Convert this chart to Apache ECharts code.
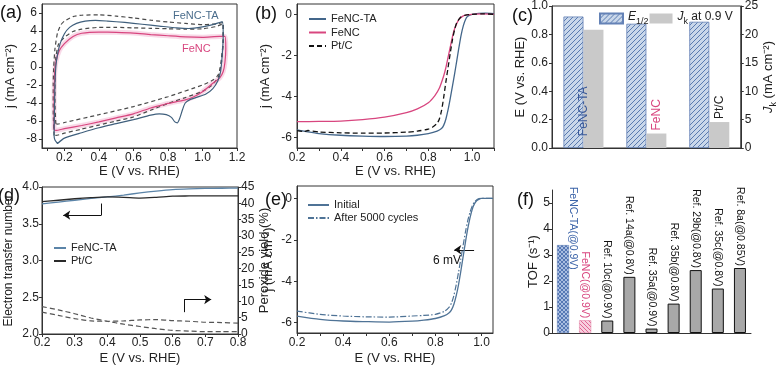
<!DOCTYPE html>
<html><head><meta charset="utf-8">
<script src="https://cdn.jsdelivr.net/npm/echarts@6/dist/echarts.min.js"></script>
<style>html,body{margin:0;padding:0;background:#fff}#c{width:779px;height:366px}</style>
</head><body><div id="c"></div>
<script>
// ---------- DATA ----------
// (a) cyclic voltammograms [E, j]
const cvTA = [[0.16,-8.5],[0.145,-8.1],[0.14,-7.6],[0.142,-5],[0.145,-2],[0.15,0],[0.16,1.4],[0.175,2.6],[0.2,3.7],[0.23,4.4],[0.27,4.85],[0.32,5.1],[0.38,5.18],[0.45,5.1],[0.55,4.95],[0.65,4.75],[0.75,4.55],[0.85,4.35],[0.92,4.28],[1.0,4.45],[1.06,4.7],[1.115,5.05],[1.12,3.5],[1.115,1.5],[1.105,-0.5],[1.09,-1.5],[1.06,-2.4],[1.02,-3.0],[0.97,-3.35],[0.93,-3.6],[0.9,-4.0],[0.885,-4.7],[0.87,-5.6],[0.855,-6.2],[0.84,-6.1],[0.82,-5.6],[0.79,-5.3],[0.75,-5.2],[0.7,-5.35],[0.6,-5.85],[0.5,-6.3],[0.4,-6.75],[0.3,-7.3],[0.2,-7.9],[0.16,-8.5]];
const cvDashBig = [[0.14,-7.6],[0.135,-5],[0.135,-2],[0.138,0],[0.145,2],[0.16,3.8],[0.18,4.7],[0.2,5.1],[0.25,5.6],[0.3,5.75],[0.4,5.8],[0.5,5.65],[0.6,5.45],[0.7,5.2],[0.8,5.0],[0.9,4.85],[1.0,4.7],[1.08,4.8],[1.12,4.95],[1.12,3],[1.11,1],[1.1,-0.5],[1.09,-1.2],[1.05,-2.1],[1.0,-2.7],[0.9,-3.4],[0.8,-4.05],[0.7,-4.8],[0.6,-5.55],[0.5,-6.0],[0.4,-6.45],[0.3,-6.9],[0.2,-7.35],[0.15,-7.6],[0.14,-7.6]];
const cvDashSmall = [[0.15,-6.3],[0.145,-4],[0.145,-1],[0.15,1],[0.165,2.5],[0.2,3.3],[0.25,3.95],[0.3,4.2],[0.4,4.4],[0.5,4.4],[0.6,4.35],[0.7,4.3],[0.8,4.25],[0.9,4.2],[1.0,4.25],[1.08,4.5],[1.12,4.8],[1.12,3],[1.11,0.5],[1.09,-0.9],[1.06,-1.45],[1.0,-2.0],[0.8,-3.3],[0.6,-4.4],[0.4,-5.3],[0.2,-6.17],[0.16,-6.35],[0.15,-6.3]];
const cvFeNC = [[0.14,-7.0],[0.14,-4],[0.143,-1],[0.15,0.5],[0.17,1.8],[0.2,2.6],[0.25,3.4],[0.3,3.75],[0.4,3.88],[0.5,3.85],[0.6,3.77],[0.7,3.6],[0.8,3.47],[0.9,3.35],[1.0,3.3],[1.1,3.4],[1.13,3.4],[1.135,2],[1.13,0.5],[1.12,-0.5],[1.1,-1.2],[1.06,-1.8],[1.0,-2.75],[0.95,-3.3],[0.9,-3.65],[0.85,-3.85],[0.8,-4.05],[0.77,-4.2],[0.7,-4.55],[0.6,-5.2],[0.5,-5.65],[0.4,-6.1],[0.3,-6.5],[0.2,-6.85],[0.15,-7.05],[0.14,-7.0]];
// (b) LSV curves
const lsvTA = [[0.2,-5.62],[0.25,-5.72],[0.3,-5.8],[0.4,-5.88],[0.5,-5.92],[0.6,-5.94],[0.7,-5.92],[0.75,-5.88],[0.8,-5.8],[0.84,-5.68],[0.86,-5.55],[0.87,-5.4],[0.88,-5.1],[0.89,-4.65],[0.9,-4.1],[0.91,-3.5],[0.92,-2.9],[0.93,-2.25],[0.94,-1.6],[0.95,-1.0],[0.96,-0.55],[0.97,-0.25],[0.98,-0.1],[1.0,0.0],[1.03,0.04],[1.06,0.05],[1.1,0.03]];
const lsvFeNC = [[0.2,-5.22],[0.3,-5.21],[0.4,-5.19],[0.5,-5.12],[0.6,-5.0],[0.7,-4.78],[0.75,-4.6],[0.8,-4.3],[0.83,-3.95],[0.85,-3.6],[0.87,-3.0],[0.88,-2.6],[0.89,-2.1],[0.9,-1.6],[0.91,-1.1],[0.92,-0.7],[0.94,-0.25],[0.96,-0.08],[0.98,-0.02],[1.0,0.0],[1.05,0.02],[1.1,0.0]];
const lsvPtC = [[0.2,-5.65],[0.23,-5.7],[0.25,-5.65],[0.3,-5.72],[0.4,-5.76],[0.5,-5.78],[0.6,-5.77],[0.7,-5.73],[0.75,-5.68],[0.8,-5.58],[0.82,-5.48],[0.84,-5.3],[0.85,-5.1],[0.86,-4.7],[0.87,-4.05],[0.88,-3.3],[0.89,-2.6],[0.9,-1.9],[0.91,-1.25],[0.92,-0.75],[0.93,-0.4],[0.95,-0.12],[0.97,-0.04],[1.0,0.0],[1.05,0.02],[1.1,0.0]];
// (c) bars
const cCats = ['FeNC-TA','FeNC','Pt/C'];
const cE12 = [0.926, 0.875, 0.889];
const cJk = [20.8, 2.55, 4.57];
// (d) electron transfer number and peroxide yield
const dX = [0.2,0.25,0.3,0.35,0.4,0.45,0.5,0.55,0.6,0.65,0.7,0.75,0.8];
const dnTA = [3.77,3.795,3.82,3.845,3.865,3.89,3.92,3.945,3.965,3.975,3.98,3.983,3.985];
const dnPt = [3.80,3.82,3.84,3.855,3.865,3.86,3.85,3.86,3.875,3.878,3.88,3.88,3.88];
const dH1 = [8.4,7.4,6.2,4.9,3.9,3.0,2.3,1.6,1.1,0.9,0.7,0.7,0.7];
const dH2 = [6.7,5.7,4.7,4.0,3.9,4.0,4.3,4.4,4.1,3.9,3.6,3.5,3.3];
// (e) stability
const eInit = [[0.2,-5.68],[0.3,-5.84],[0.4,-5.92],[0.5,-5.95],[0.6,-5.97],[0.7,-5.93],[0.75,-5.88],[0.8,-5.8],[0.84,-5.66],[0.86,-5.52],[0.87,-5.38],[0.88,-5.12],[0.89,-4.72],[0.9,-4.2],[0.91,-3.55],[0.92,-2.85],[0.93,-2.15],[0.94,-1.5],[0.95,-0.95],[0.96,-0.52],[0.97,-0.25],[0.98,-0.1],[0.99,-0.03],[1.0,0.0],[1.05,0.0]];
const eAfter = [[0.2,-5.44],[0.3,-5.6],[0.4,-5.68],[0.5,-5.72],[0.6,-5.73],[0.7,-5.68],[0.75,-5.65],[0.8,-5.6],[0.84,-5.45],[0.86,-5.25],[0.87,-5.05],[0.88,-4.7],[0.89,-4.2],[0.9,-3.6],[0.91,-2.95],[0.92,-2.3],[0.93,-1.65],[0.94,-1.1],[0.95,-0.68],[0.96,-0.36],[0.97,-0.17],[0.98,-0.06],[0.99,-0.01],[1.0,0.0],[1.05,0.0]];
// (f) TOF
const fCats = ['FeNC-TA(@0.9V)','FeNC(@0.9V)','Ref. 10c(@0.9V)','Ref. 14a(@0.8V)','Ref. 35a(@0.9V)','Ref. 35b(@0.8V)','Ref. 29b(@0.8V)','Ref. 35c(@0.8V)','Ref. 8a(@0.85V)'];
const fTOF = [3.38, 0.49, 0.48, 2.16, 0.17, 1.13, 2.42, 1.71, 2.5];
// tick labels
const aXLabels = [0.2,0.4,0.6,0.8,1.0,1.2];
const aXTicks = [0.1,0.2,0.3,0.4,0.5,0.6,0.7,0.8,0.9,1.0,1.1,1.2];
const aYLabels = [-8,-6,-4,-2,0,2,4,6];
const bXLabels = [0.2,0.4,0.6,0.8,1.0];
const bXTicks = [0.2,0.3,0.4,0.5,0.6,0.7,0.8,0.9,1.0,1.1];
const bYLabels = [-6,-4,-2,0];
const eXLabels = [0.2,0.4,0.6,0.8,1.0];
const eXTicks = [0.2,0.3,0.4,0.5,0.6,0.7,0.8,0.9,1.0];
const eYLabels = [-6,-4,-2,0];
const fYLabels = [0,1,2,3,4,5];
// annotation arrows (data coords)
const dArrowL = [[0.382,3.775],[0.382,3.617],[0.265,3.617]];
const dArrowR = [[0.635,2.297],[0.635,2.468],[0.718,2.468]];
const eArrow = [[0.968,-2.48],[0.882,-2.48]];

// ---------- STYLE ----------
const FONT = "'Liberation Sans', Arial, sans-serif";
const INK = '#222';
const TA = '#43668a', PINK = '#d8467f';

function hatch(bg, fg, size, dir, lw) {
  const c = document.createElement('canvas'); c.width = c.height = size;
  const x = c.getContext('2d'); x.fillStyle = bg; x.fillRect(0,0,size,size);
  x.strokeStyle = fg; x.lineWidth = lw; x.beginPath();
  const dirs = dir === 'x' ? ['/','\\'] : [dir];
  dirs.forEach(d => {
    if (d === '/') { x.moveTo(0,size); x.lineTo(size,0); x.moveTo(-1,1); x.lineTo(1,-1); x.moveTo(size-1,size+1); x.lineTo(size+1,size-1); }
    else { x.moveTo(0,0); x.lineTo(size,size); x.moveTo(size-1,-1); x.lineTo(size+1,1); x.moveTo(-1,size-1); x.lineTo(1,size+1); }
  });
  x.stroke();
  return { image: c, repeat: 'repeat' };
}
const blueHatch = hatch('#c9d7ea', '#5a7bb0', 5, '/', 1);
const blueCross = hatch('#a9bde0', '#4065a8', 4, 'x', 0.8);
const pinkHatch = hatch('#f7d0de', '#dc5a8a', 4, '\\', 0.9);

const richSub = {
  i: { fontStyle: 'italic', fontSize: 12, fontFamily: FONT, color: INK, padding: [0,0,3,0], verticalAlign: 'bottom' },
  s: { fontSize: 9, fontFamily: FONT, color: INK, verticalAlign: 'bottom' },
  n: { fontSize: 12, fontFamily: FONT, color: INK, padding: [0,0,3,0], verticalAlign: 'bottom' }
};
const richName = {
  i: { fontStyle: 'italic', fontSize: 13, fontFamily: FONT, color: INK, padding: [0,0,3,0], verticalAlign: 'bottom' },
  s: { fontSize: 9, fontFamily: FONT, color: INK, verticalAlign: 'bottom' },
  n: { fontSize: 13, fontFamily: FONT, color: INK, padding: [0,0,3,0], verticalAlign: 'bottom' }
};

function vAxis(o) {
  return {
    type: 'value', gridIndex: o.g, min: o.min, max: o.max, position: o.pos, interval: o.interval,
    name: o.name, nameLocation: 'middle', nameGap: o.gap, nameRotate: o.rot,
    nameTextStyle: { fontSize: o.nameSize || 13, fontFamily: FONT, color: INK, rich: o.rich },
    axisLine: { show: true, onZero: false, lineStyle: { color: '#333', width: 1 } },
    axisTick: { show: true, length: 3, customValues: o.ticks, lineStyle: { color: '#333' } },
    axisLabel: { fontSize: 12, fontFamily: FONT, color: INK, margin: o.margin == null ? 4 : o.margin,
      customValues: o.labels, formatter: o.fmt, showMinLabel: true, showMaxLabel: true },
    splitLine: { show: false }
  };
}
const f1 = v => (+v).toFixed(1);
const f0 = v => String(Math.round(v));
function cAxis(g, data) {
  return { type: 'category', gridIndex: g, data: data, boundaryGap: true,
    axisLine: { show: true, onZero: false, lineStyle: { color: '#333' } },
    axisTick: { show: false }, axisLabel: { show: false }, splitLine: { show: false } };
}
const gridBase = { show: true, borderColor: '#333', borderWidth: 1, containLabel: false };
function line(name, x, y, data, color, opts) {
  opts = opts || {};
  return { type: 'line', name: name, xAxisIndex: x, yAxisIndex: y, data: data, symbol: 'none', showSymbol: false,
    smooth: opts.smooth == null ? 0.25 : opts.smooth,
    lineStyle: { color: color, width: opts.width || 1.2, type: opts.type || 'solid', opacity: 1 },
    itemStyle: { color: color }, z: opts.z || 3, silent: true };
}
const strip = n => n.split('|')[0];
const legendLine = { opacity: 0, color: 'transparent', borderWidth: 0 };

const chart = echarts.init(document.getElementById('c'), null, { renderer: 'canvas' });
const dPairs = arr => dX.map((x, i) => [x, arr[i]]);

const fData = fTOF.map((v, i) => {
  const item = { value: v };
  if (i === 0) { item.itemStyle = { color: blueCross, borderColor: '#5a7bb0', borderWidth: 0.5 }; item.label = { color: '#3b63a8', position: ['135%', '28%'] }; }
  else if (i === 1) { item.itemStyle = { color: pinkHatch, borderColor: '#e07aa0', borderWidth: 0.5 }; item.label = { color: PINK }; }
  else { item.itemStyle = { color: '#a8a8a8', borderColor: '#111', borderWidth: 1 }; }
  return item;
});
const cLabelStyle = [
  { position: ['0%', '90%'], color: '#3a5a9a' },
  { position: 'top', distance: 3, color: PINK },
  { position: 'top', distance: 3, color: INK }
];
const cJkData = cJk.map((v, i) => ({ value: v, label: cLabelStyle[i] }));

const option = {
  animation: false,
  backgroundColor: '#fff',
  textStyle: { fontFamily: FONT },
  grid: [
    Object.assign({ left: 42, top: 4, width: 195, height: 144 }, gridBase),
    Object.assign({ left: 297, top: 4, width: 197, height: 144 }, gridBase),
    Object.assign({ left: 552, top: 4, width: 197, height: 144 }, gridBase),
    Object.assign({ left: 42, top: 187, width: 196, height: 148 }, gridBase),
    Object.assign({ left: 297, top: 186, width: 196, height: 148 }, gridBase),
    { left: 552, top: 190, width: 199, height: 143, show: false }
  ],
  xAxis: [
    vAxis({ g: 0, min: 0.07, max: 1.2, labels: aXLabels, ticks: aXTicks, fmt: f1, name: 'E (V vs. RHE)', gap: 17 }),
    vAxis({ g: 1, min: 0.2, max: 1.1, labels: bXLabels, ticks: bXTicks, fmt: f1, name: 'E (V vs. RHE)', gap: 12 }),
    cAxis(2, cCats),
    vAxis({ g: 3, min: 0.2, max: 0.8, interval: 0.1, fmt: f1, name: 'E (V vs. RHE)', gap: 18, margin: 3 }),
    vAxis({ g: 4, min: 0.2, max: 1.05, labels: eXLabels, ticks: eXTicks, fmt: f1, name: 'E (V vs. RHE)', gap: 19 }),
    cAxis(5, fCats)
  ],
  yAxis: [
    vAxis({ g: 0, min: -9, max: 7, labels: aYLabels, ticks: aYLabels, fmt: f0, name: 'j (mA cm⁻²)', gap: 25, rot: 90, margin: 5 }),
    vAxis({ g: 1, min: -6.5, max: 0.5, labels: bYLabels, ticks: bYLabels, fmt: f0, name: 'j (mA cm⁻²)', gap: 25, rot: 90, margin: 5 }),
    vAxis({ g: 2, min: 0, max: 1, interval: 0.2, fmt: f1, name: 'E (V vs. RHE)', gap: 21, rot: 90, margin: 4 }),
    vAxis({ g: 2, min: 0, max: 25, interval: 5, fmt: f0, pos: 'right', name: '{i|J}{s|k}{n| (mA cm⁻²)}', rich: richName, gap: 16, rot: 90, margin: 4 }),
    vAxis({ g: 3, min: 2, max: 4, interval: 0.5, fmt: f1, name: 'Electron transfer number', nameSize: 12, gap: 27, rot: 90, margin: 3 }),
    vAxis({ g: 3, min: 0, max: 45, interval: 5, fmt: f0, pos: 'right', name: 'Peroxide yield (%)', gap: 17, rot: 90, margin: 3 }),
    vAxis({ g: 4, min: -6.5, max: 0.6, labels: eYLabels, ticks: eYLabels, fmt: f0, name: 'j (mA cm⁻²)', gap: 22, rot: 90, margin: 5 }),
    vAxis({ g: 5, min: 0, max: 5.5, labels: fYLabels, ticks: fYLabels, fmt: f0, name: 'TOF (s⁻¹)', gap: 10, rot: 90, margin: 2 })
  ],
  legend: [
    { data: ['FeNC-TA|b', 'FeNC|b', 'Pt/C|b'], orient: 'vertical', left: 303, top: 7.5, itemWidth: 17, itemHeight: 13, itemGap: 0.5,
      selectedMode: false, formatter: strip, itemStyle: legendLine, textStyle: { fontSize: 11, lineHeight: 13, color: INK, fontFamily: FONT } },
    { data: ['E12', 'Jk'], orient: 'horizontal', left: 594, top: 6, itemWidth: 23, itemHeight: 10, itemGap: 1, icon: 'rect',
      selectedMode: false, formatter: n => n === 'E12' ? '{i|E}{s|1/2}' : '{i|J}{s|k}{n| at 0.9 V}',
      textStyle: { fontSize: 12, color: INK, fontFamily: FONT, rich: richSub } },
    { data: ['FeNC-TA|d', 'Pt/C|d'], orient: 'vertical', left: 48, top: 236.5, itemWidth: 12, itemHeight: 13, itemGap: 0,
      selectedMode: false, formatter: strip, itemStyle: legendLine, textStyle: { fontSize: 11, lineHeight: 13, color: INK, fontFamily: FONT } },
    { data: ['Initial|e', 'After 5000 cycles|e'], orient: 'vertical', left: 302, top: 193.5, itemWidth: 21, itemHeight: 13, itemGap: 0,
      selectedMode: false, formatter: strip, itemStyle: legendLine, textStyle: { fontSize: 11, lineHeight: 13, color: INK, fontFamily: FONT } }
  ],
  series: [
    // (a)
    line('dashBig', 0, 0, cvDashBig, '#4a4a4a', { type: [4, 3], smooth: 0.2 }),
    line('dashSmall', 0, 0, cvDashSmall, '#4a4a4a', { type: [4, 3], smooth: 0.2 }),
    line('halo', 0, 0, cvFeNC, 'rgba(236,150,190,0.35)', { width: 5, smooth: 0.2, z: 2 }),
    line('FeNC|a', 0, 0, cvFeNC, PINK, { smooth: 0.2 }),
    line('FeNC-TA|a', 0, 0, cvTA, '#3f5f7c', { smooth: 0.2 }),
    // (b)
    line('FeNC-TA|b', 1, 1, lsvTA, TA, { width: 1.3 }),
    line('FeNC|b', 1, 1, lsvFeNC, PINK, { width: 1.3 }),
    line('Pt/C|b', 1, 1, lsvPtC, '#111', { width: 1.3, type: [5, 3] }),
    // (c)
    { type: 'bar', name: 'E12', xAxisIndex: 2, yAxisIndex: 2, data: cE12, barWidth: 20, barGap: '0%',
      itemStyle: { color: blueHatch, borderColor: '#6482b6', borderWidth: 0.8 }, silent: true },
    { type: 'bar', name: 'Jk', xAxisIndex: 2, yAxisIndex: 3, data: cJkData, barWidth: 20, barGap: '0%',
      itemStyle: { color: '#c9c9c9' }, silent: true, z: 4,
      label: { show: true, formatter: '{b}', rotate: 90, align: 'left', verticalAlign: 'middle', fontSize: 12, fontFamily: FONT } },
    // (d)
    line('FeNC-TA|d', 3, 4, dPairs(dnTA), '#5b84a8', { width: 1.3 }),
    line('Pt/C|d', 3, 4, dPairs(dnPt), '#2a2a2a', { width: 1.3 }),
    line('H1', 3, 5, dPairs(dH1), '#555', { type: [5, 3] }),
    line('H2', 3, 5, dPairs(dH2), '#555', { type: [5, 3] }),
    { type: 'lines', coordinateSystem: 'cartesian2d', xAxisIndex: 3, yAxisIndex: 4, silent: true,
      symbol: ['none', 'none'], lineStyle: { color: '#111', width: 1, opacity: 1 },
      data: [{ coords: [dArrowL[0], dArrowL[1]] }, { coords: [dArrowR[0], dArrowR[1]] }] },
    { type: 'lines', coordinateSystem: 'cartesian2d', xAxisIndex: 3, yAxisIndex: 4, silent: true,
      symbol: ['none', 'arrow'], symbolSize: [6, 7], lineStyle: { color: '#111', width: 1, opacity: 1 },
      data: [{ coords: [dArrowL[1], dArrowL[2]] }, { coords: [dArrowR[1], dArrowR[2]] }] },
    // (e)
    line('Initial|e', 4, 6, eInit, '#4f7396', { width: 1.3 }),
    line('After 5000 cycles|e', 4, 6, eAfter, '#4f7396', { width: 1.2, type: [6, 2, 1.5, 2] }),
    { type: 'lines', coordinateSystem: 'cartesian2d', xAxisIndex: 4, yAxisIndex: 6, silent: true,
      symbol: ['none', 'arrow'], symbolSize: [6, 7], lineStyle: { color: '#111', width: 1, opacity: 1 },
      data: [{ coords: eArrow }] },
    // (f)
    { type: 'bar', name: 'TOF', xAxisIndex: 5, yAxisIndex: 7, data: fData, barWidth: 12, silent: true,
      label: { show: true, position: 'top', rotate: -90, align: 'right', verticalAlign: 'middle', distance: 2,
        fontSize: 10.5, fontFamily: FONT, color: '#111', formatter: '{b}' } }
  ],
  graphic: [
    { type: 'text', x: 0, y: 13.5, style: { text: '(a)', fontSize: 18, fontFamily: FONT, fill: '#111', verticalAlign: 'middle' } },
    { type: 'text', x: 255, y: 14, style: { text: '(b)', fontSize: 18, fontFamily: FONT, fill: '#111', verticalAlign: 'middle' } },
    { type: 'text', x: 512, y: 16, style: { text: '(c)', fontSize: 18, fontFamily: FONT, fill: '#111', verticalAlign: 'middle' } },
    { type: 'text', x: -2, y: 196, style: { text: '(d)', fontSize: 18, fontFamily: FONT, fill: '#111', verticalAlign: 'middle' } },
    { type: 'text', x: 265, y: 200, style: { text: '(e)', fontSize: 18, fontFamily: FONT, fill: '#111', verticalAlign: 'middle' } },
    { type: 'text', x: 517, y: 200, style: { text: '(f)', fontSize: 18, fontFamily: FONT, fill: '#111', verticalAlign: 'middle' } },
    { type: 'text', x: 173, y: 16, style: { text: 'FeNC-TA', fontSize: 11, fontFamily: FONT, fill: '#4a6d8c', verticalAlign: 'middle' } },
    { type: 'text', x: 182, y: 48.5, style: { text: 'FeNC', fontSize: 11, fontFamily: FONT, fill: PINK, verticalAlign: 'middle' } },
    { type: 'text', x: 433, y: 261, style: { text: '6 mV', fontSize: 12, fontFamily: FONT, fill: '#111', verticalAlign: 'middle' } }
  ]
};
chart.setOption(option);
</script></body></html>
